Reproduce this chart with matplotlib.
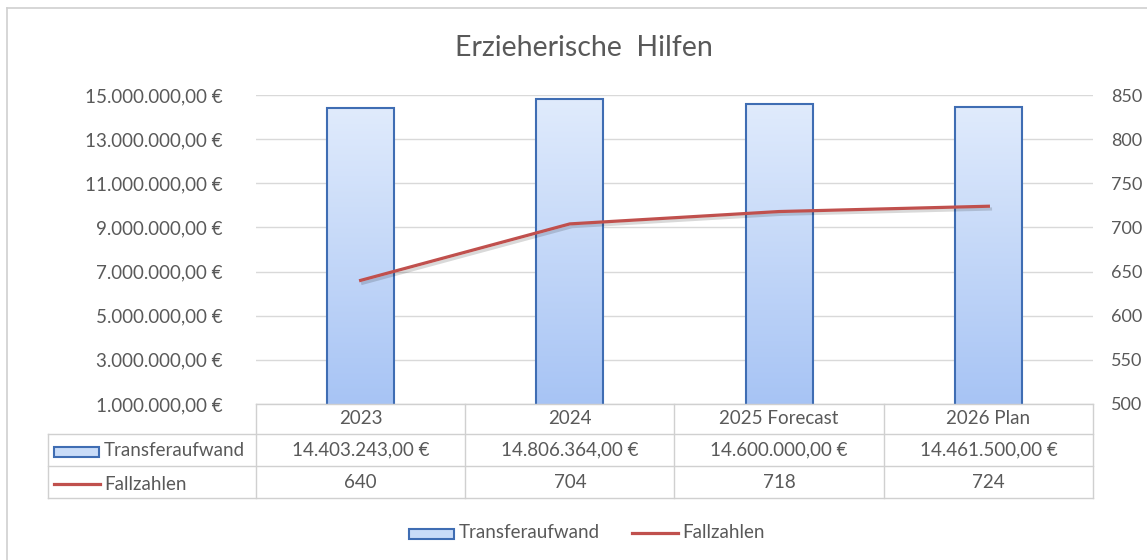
import numpy as np
import matplotlib
matplotlib.use("Agg")
import matplotlib.pyplot as plt
from matplotlib.patches import Rectangle
from matplotlib.lines import Line2D
from matplotlib import patheffects as pe
from matplotlib.colors import LinearSegmentedColormap

plt.rcParams['font.family'] = ['Lato', 'DejaVu Sans']

# Daten
kategorien = ["2023", "2024", "2025 Forecast", "2026 Plan"]
transferaufwand = [14403243.00, 14806364.00, 14600000.00, 14461500.00]
fallzahlen = [640, 704, 718, 724]
links_ticks = [1e6, 3e6, 5e6, 7e6, 9e6, 11e6, 13e6, 15e6]
rechts_ticks = [500, 550, 600, 650, 700, 750, 800, 850]

grau = "#595959"
linie_grau = "#d9d9d9"
rot = "#c0504d"
blau_rand = "#3f6db3"
W, H = 1147, 560
fs = 13.5


def euro(v):
    s = f"{v:,.2f}"
    return s.replace(",", "X").replace(".", ",").replace("X", ".") + " €"


fig = plt.figure(figsize=(W / 100, H / 100), dpi=100)
fig.patch.set_facecolor("white")

# Zeichenbereich in Pixeln
links, rechts, oben, unten = 256, 1093, 95, 404
ax = fig.add_axes([links / W, 1 - unten / H, (rechts - links) / W, (unten - oben) / H])

# Balken mit Verlauf
verlauf = LinearSegmentedColormap.from_list("verlauf", ["#a3c1f4", "#e0ebfc"])
grad = np.linspace(0, 1, 256).reshape(-1, 1)
breite = 0.32
for i, v in enumerate(transferaufwand):
    ax.imshow(grad, cmap=verlauf, origin="lower", aspect="auto",
              extent=(i - breite / 2, i + breite / 2, 0, v), zorder=2)
ax.bar(range(len(kategorien)), transferaufwand, breite, fill=False,
       edgecolor=blau_rand, linewidth=1.5, zorder=3)

ax.set_xlim(-0.5, len(kategorien) - 0.5)
ax.set_ylim(links_ticks[0], links_ticks[-1])
ax.set_yticks(links_ticks)
ax.set_yticklabels([euro(t) for t in links_ticks])
ax.set_xticks([])
ax.grid(axis="y", color=linie_grau, linewidth=1)
ax.set_axisbelow(True)
ax.tick_params(axis="y", length=0, pad=24, labelsize=fs, labelcolor=grau)
for s in ax.spines.values():
    s.set_visible(False)

# Linie auf zweiter Achse
ax2 = ax.twinx()
ax2.plot(range(len(kategorien)), fallzahlen, color=rot, linewidth=2.3,
         path_effects=[pe.SimpleLineShadow(offset=(1.5, -2), alpha=0.15), pe.Normal()])
ax2.set_ylim(rechts_ticks[0], rechts_ticks[-1])
ax2.set_yticks(rechts_ticks)
ax2.tick_params(axis="y", length=0, pad=13, labelsize=13, labelcolor=grau)
for s in ax2.spines.values():
    s.set_visible(False)


# Hilfsfunktionen in Pixelkoordinaten
def fx(px):
    return px / W


def fy(py):
    return 1 - py / H


def hlinie(x0, x1, y, farbe="#d0d0d0", lw=1.0):
    fig.add_artist(Line2D([fx(x0), fx(x1)], [fy(y), fy(y)], color=farbe, linewidth=lw))


def vlinie(x, y0, y1, farbe="#d0d0d0", lw=1.0):
    fig.add_artist(Line2D([fx(x), fx(x)], [fy(y0), fy(y1)], color=farbe, linewidth=lw))


# Datentabelle
spalte = (rechts - links) / len(kategorien)
grenzen = [links + k * spalte for k in range(len(kategorien) + 1)]
tab_links = 48
zeilen = [404, 434, 466, 498]

hlinie(links, rechts, zeilen[0])
for y in zeilen[1:]:
    hlinie(tab_links, rechts, y)
for x in grenzen:
    vlinie(x, zeilen[0], zeilen[-1])
vlinie(tab_links, zeilen[1], zeilen[-1])

for i, k in enumerate(kategorien):
    mx = (grenzen[i] + grenzen[i + 1]) / 2
    fig.text(fx(mx), fy(419), k, ha="center", va="center", fontsize=fs, color=grau)
    fig.text(fx(mx), fy(450), euro(transferaufwand[i]), ha="center", va="center",
             fontsize=fs, color=grau)
    fig.text(fx(mx), fy(482), str(fallzahlen[i]), ha="center", va="center",
             fontsize=fs, color=grau)

# Legendensymbole in der Tabelle
fig.add_artist(Rectangle((fx(54), fy(457)), (99 - 54) / W, 10 / H, transform=fig.transFigure,
                         facecolor="#c9dcf8", edgecolor=blau_rand, linewidth=1.5))
fig.text(fx(104), fy(451), "Transferaufwand", ha="left", va="center", fontsize=fs, color=grau)
fig.add_artist(Line2D([fx(54), fx(100)], [fy(484), fy(484)], color=rot, linewidth=2.3))
fig.text(fx(104), fy(484), "Fallzahlen", ha="left", va="center", fontsize=fs, color=grau)

# Legende unten
fig.add_artist(Rectangle((fx(409), fy(539)), (454 - 409) / W, 10 / H, transform=fig.transFigure,
                         facecolor="#c9dcf8", edgecolor=blau_rand, linewidth=1.5))
fig.text(fx(459), fy(533), "Transferaufwand", ha="left", va="center", fontsize=fs, color=grau)
fig.add_artist(Line2D([fx(632), fx(678)], [fy(533), fy(533)], color=rot, linewidth=2.3))
fig.text(fx(682), fy(533), "Fallzahlen", ha="left", va="center", fontsize=fs, color=grau)

# Titel
fig.text(fx(584), fy(48), "Erzieherische  Hilfen", ha="center", va="center",
         fontsize=20.5, color=grau)

# Rahmen
hlinie(7, W, 8, farbe="#d0d0d0", lw=1.2)
vlinie(7, 8, H, farbe="#d0d0d0", lw=1.2)

fig.savefig("out.png", dpi=100)
